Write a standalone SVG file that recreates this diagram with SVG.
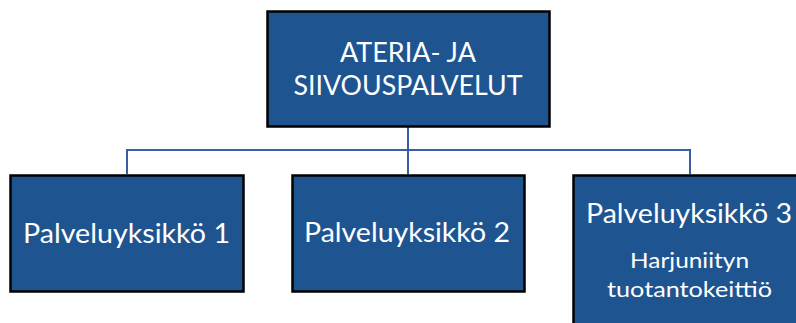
<svg xmlns="http://www.w3.org/2000/svg" width="796" height="323" viewBox="0 0 796 323">
<style>
.box{fill:#1E5591;stroke:#000;stroke-width:2.5}
.t{fill:#fff;font-family:Lato,"Open Sans","Liberation Sans",sans-serif;text-anchor:middle}
.big{font-size:27px}
.small{font-size:21px}
.conn{fill:none;stroke:#3A5CA6;stroke-width:2}
</style>
<rect width="796" height="323" fill="#fff"/>
<g id="connectors">
<path class="conn" d="M408 127V174M127 174V150H690V174"/>
</g>
<g id="root">
<rect class="box" x="267.5" y="11.5" width="282" height="115"/>
<text class="t big" x="408" y="62" textLength="136" lengthAdjust="spacingAndGlyphs">ATERIA- JA</text>
<text class="t big" x="408" y="95" textLength="229" lengthAdjust="spacingAndGlyphs">SIIVOUSPALVELUT</text>
</g>
<g id="unit1">
<rect class="box" x="10.5" y="175.5" width="233" height="116"/>
<text class="t big" x="126.5" y="243" textLength="207" lengthAdjust="spacingAndGlyphs">Palveluyksikkö 1</text>
</g>
<g id="unit2">
<rect class="box" x="292.5" y="175.5" width="232" height="116"/>
<text class="t big" x="407" y="242" textLength="206" lengthAdjust="spacingAndGlyphs">Palveluyksikkö 2</text>
</g>
<g id="unit3">
<rect class="box" x="573.5" y="175.5" width="233" height="160"/>
<text class="t big" x="689" y="223" textLength="206" lengthAdjust="spacingAndGlyphs">Palveluyksikkö 3</text>
<text class="t small" x="689.5" y="268" textLength="119" lengthAdjust="spacingAndGlyphs">Harjuniityn</text>
<text class="t small" x="689.5" y="297" textLength="165" lengthAdjust="spacingAndGlyphs">tuotantokeittiö</text>
</g>
</svg>
